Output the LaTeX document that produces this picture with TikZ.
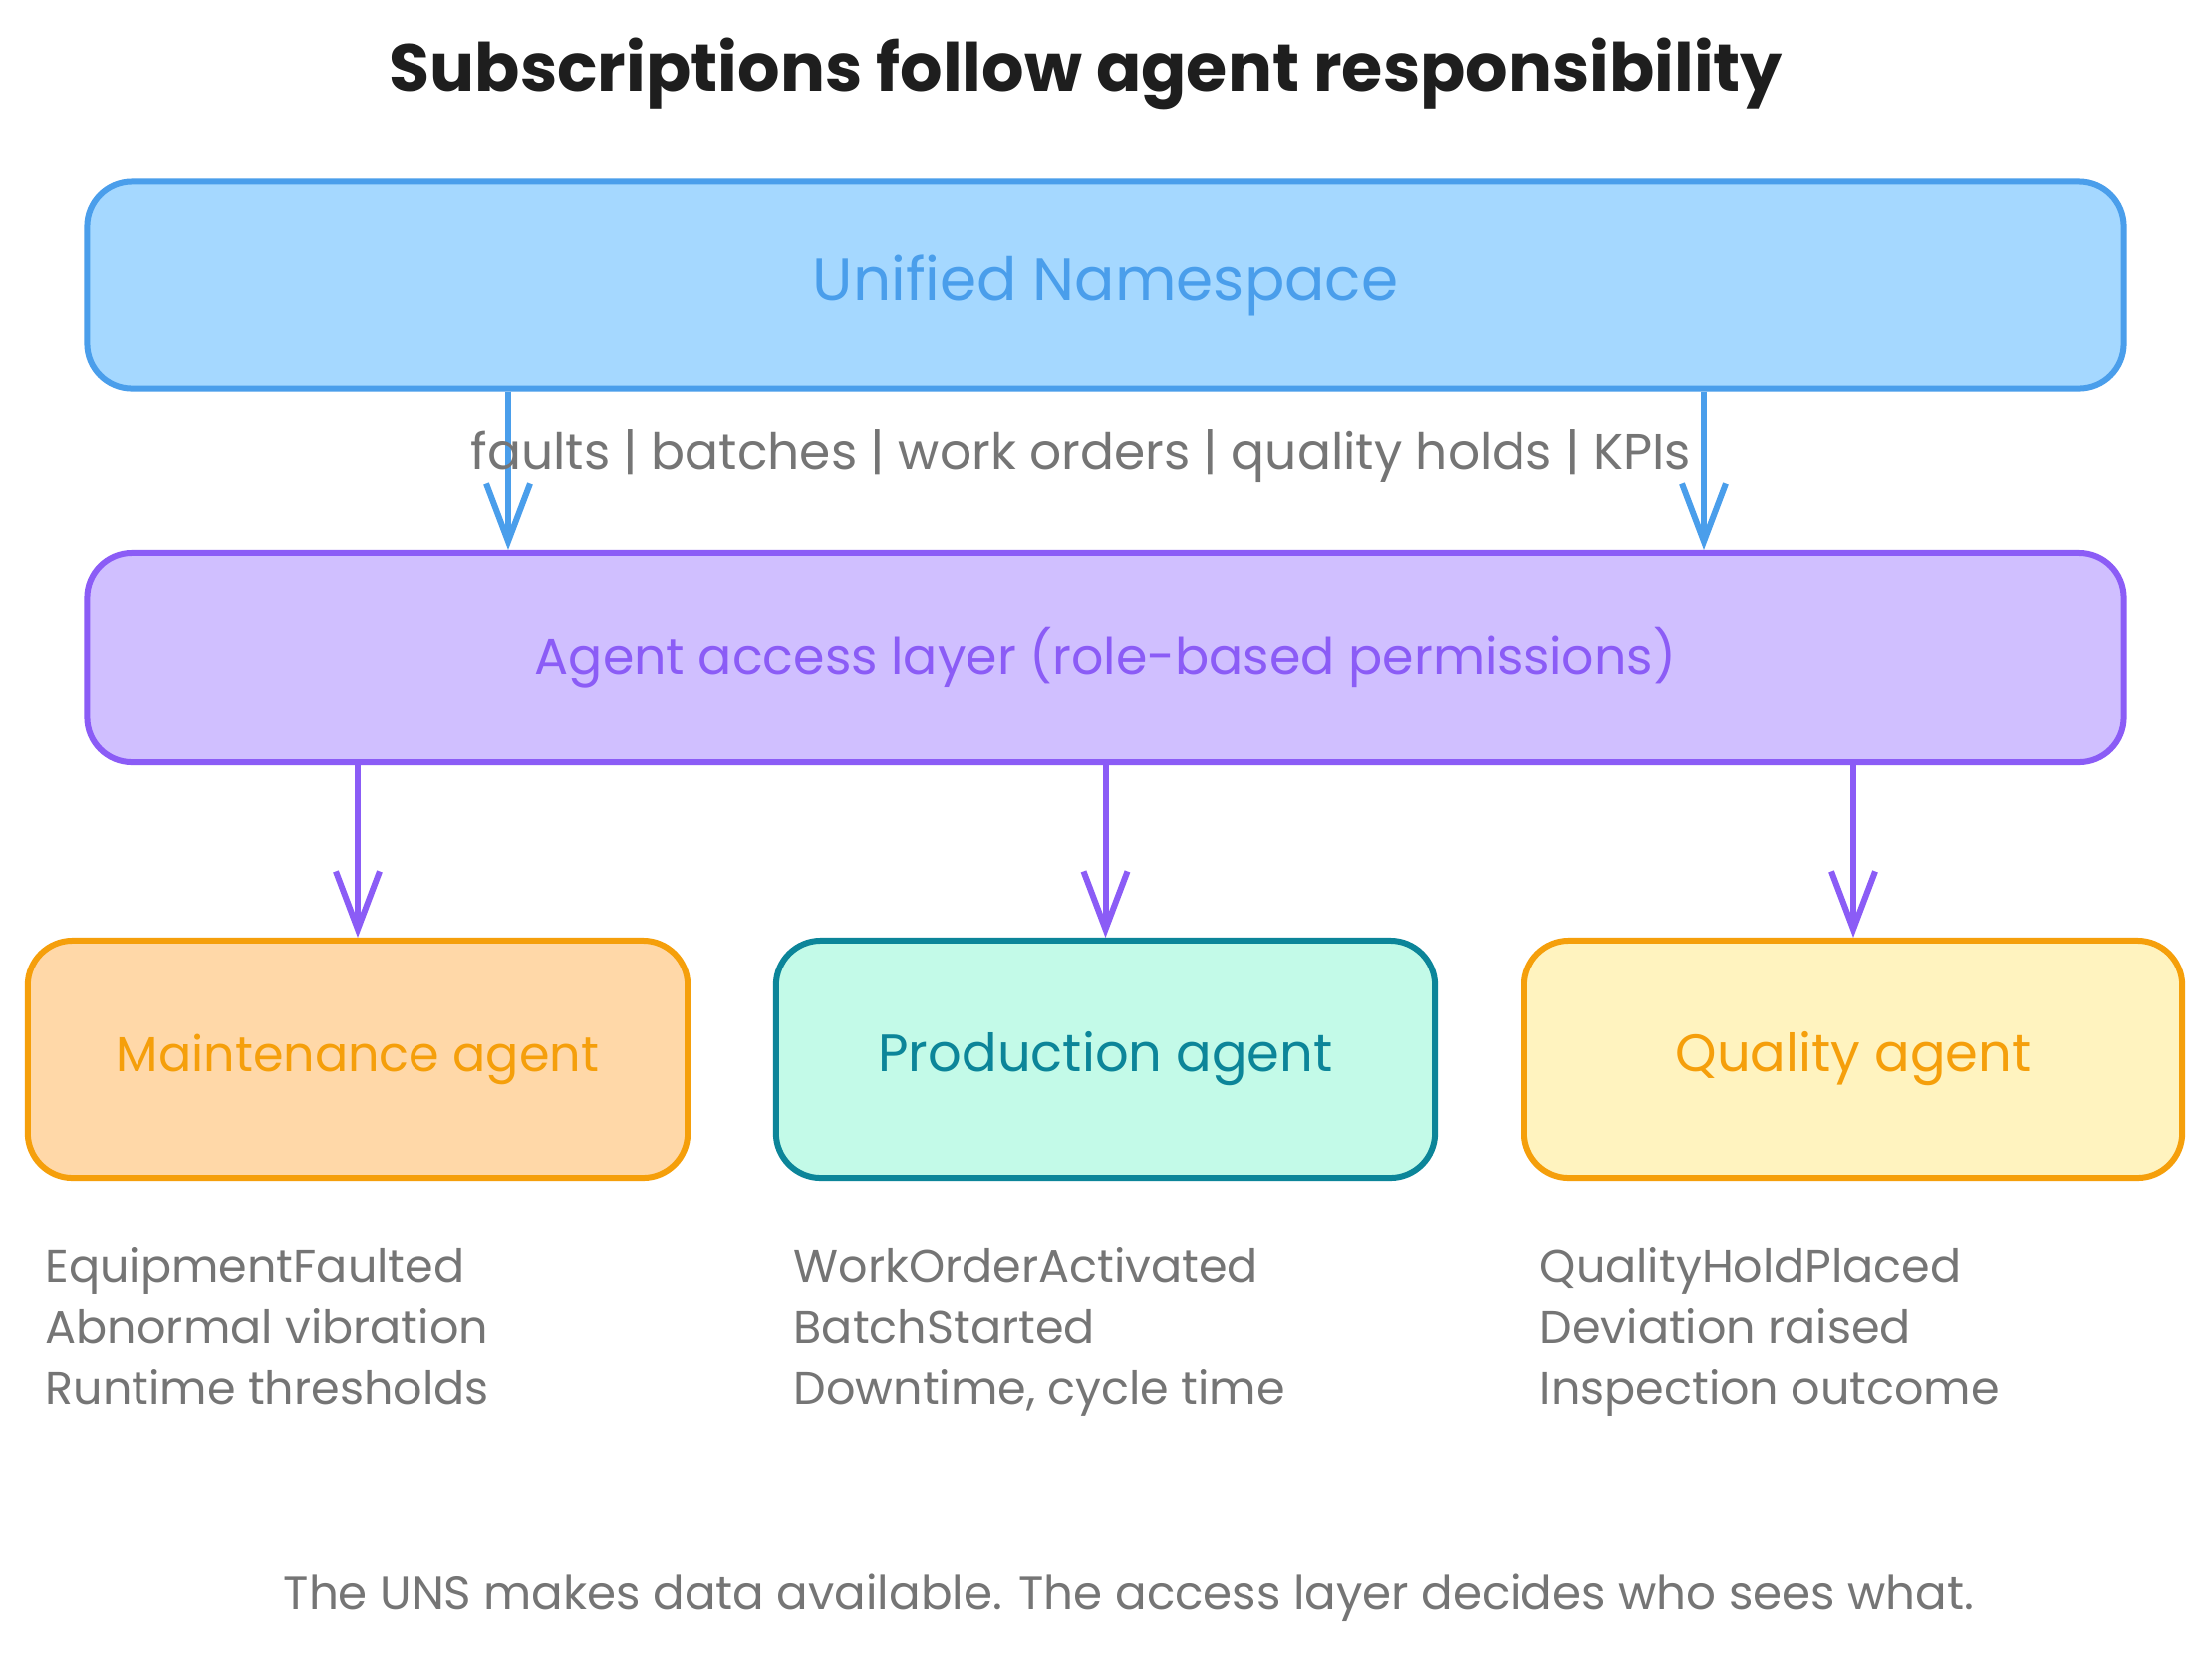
\documentclass[tikz,border=0pt]{standalone}
\usepackage{fontspec}
\setmainfont{Poppins}
\usetikzlibrary{arrows.meta}
\definecolor{ublue}{HTML}{4A9EEB}
\definecolor{ubluefill}{HTML}{A5D8FF}
\definecolor{upurple}{HTML}{8B5CF6}
\definecolor{upurplefill}{HTML}{D0BFFF}
\definecolor{uorange}{HTML}{F59F0B}
\definecolor{uorangefill}{HTML}{FFD8A8}
\definecolor{uteal}{HTML}{0C8599}
\definecolor{utealfill}{HTML}{C3FAE8}
\definecolor{uyellowfill}{HTML}{FFF3BF}
\definecolor{ugray}{HTML}{757575}
\definecolor{uink}{HTML}{1E1E1E}
\tikzset{
  box/.style={draw, line width=0.6mm, rounded corners=4.5mm, inner sep=0pt},
  bigbox/.style={box, minimum width=20.43cm, minimum height=2.07cm},
  agentbox/.style={box, minimum width=6.62cm, minimum height=2.38cm},
  arr/.style={line width=0.6mm, -{Straight Barb[length=5.8mm,width=4.4mm,line width=0.6mm]}},
  note/.style={text=ugray, align=left, anchor=north west, inner sep=0pt,
    font=\fontsize{13.1pt}{17.3pt}\selectfont},
}
\begin{document}
\begin{tikzpicture}[x=0.01cm,y=-0.01cm]
\useasboundingbox (0,0) rectangle (2220,1665);
\fill[white] (0,0) rectangle (2220,1665);

\node[text=uink, font=\fontsize{19pt}{22pt}\selectfont\bfseries] (title) at (1090,74) {Subscriptions follow agent responsibility};

\node[bigbox, draw=ublue, fill=ubluefill, text=ublue, font=\fontsize{17pt}{20pt}\selectfont] (uns) at (1109.5,286) {Unified Namespace};
\node[bigbox, draw=upurple, fill=upurplefill, text=upurple, font=\fontsize{14.4pt}{17pt}\selectfont, minimum height=2.10cm] (acc) at (1109.5,660) {Agent access layer (role-based permissions)};

\node[agentbox, draw=uorange, fill=uorangefill, text=uorange, font=\fontsize{14pt}{18pt}\selectfont] (maint) at (359,1063) {Maintenance agent};
\node[agentbox, draw=uteal, fill=utealfill, text=uteal, font=\fontsize{15pt}{18pt}\selectfont, minimum width=6.61cm] (prod) at (1109.5,1063) {Production agent};
\node[agentbox, draw=uorange, fill=uyellowfill, text=uorange, font=\fontsize{15pt}{18pt}\selectfont, minimum width=6.60cm] (qual) at (1860,1063) {Quality agent};

\coordinate (c1) at (510,0);
\coordinate (c2) at (1710,0);
\draw[arr, ublue] (c1 |- uns.south) -- (c1 |- acc.north);
\draw[arr, ublue] (c2 |- uns.south) -- (c2 |- acc.north);
\node[text=ugray, font=\fontsize{14.3pt}{17pt}\selectfont] (flow) at (1085,458) {faults | batches | work orders | quality holds | KPIs};

\draw[arr, upurple] (acc.south -| maint.north) -- (maint.north);
\draw[arr, upurple] (acc.south -| prod.north) -- (prod.north);
\draw[arr, upurple] (acc.south -| qual.north) -- (qual.north);

\node[note] (mlist) at (45,1252) {EquipmentFaulted\\Abnormal vibration\\Runtime thresholds};
\node[note] (plist) at (796,1252) {WorkOrderActivated\\BatchStarted\\Downtime, cycle time};
\node[note] (qlist) at (1545,1252) {QualityHoldPlaced\\Deviation raised\\Inspection outcome};

\node[text=ugray, font=\fontsize{13.3pt}{16pt}\selectfont] (foot) at (1133,1604) {The UNS makes data available. The access layer decides who sees what.};
\end{tikzpicture}
\end{document}
